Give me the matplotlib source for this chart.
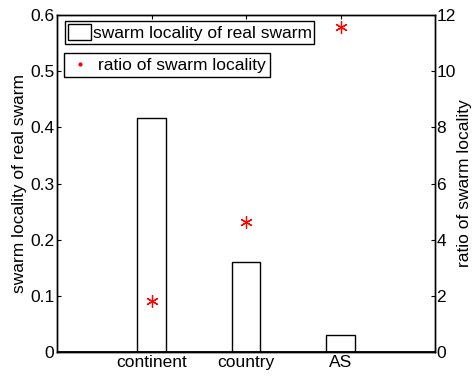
import matplotlib.pyplot as plt
import matplotlib.ticker as mticker
from matplotlib.patches import Patch
from matplotlib.lines import Line2D
import numpy as np

plt.rcParams['font.family'] = ['Liberation Sans', 'DejaVu Sans']
plt.rcParams['font.size'] = 12.5

categories = ['continent', 'country', 'AS']
locality = [0.417, 0.160, 0.030]
ratio = [1.82, 4.63, 11.57]

x = np.arange(1, len(categories) + 1)

fig = plt.figure(figsize=(4.77, 3.81), dpi=100)
ax = fig.add_axes([0.1195, 0.0761, 0.7925, 0.8845])

ax.bar(x, locality, width=0.3, facecolor='white', edgecolor='black', linewidth=1, zorder=2)
ax.axhline(0, color='black', linewidth=2, zorder=3)
ax.set_xlim(0, 4)
ax.set_ylim(0, 0.6)
ax.set_xticks(x)
ax.set_xticklabels(categories)
ax.set_yticks(np.arange(0, 0.61, 0.1))
ax.yaxis.set_major_formatter(mticker.FormatStrFormatter('%g'))
ax.tick_params(direction='in', length=3, top=True, right=False, pad=2)
ax.set_ylabel('swarm locality of real swarm', labelpad=2)

ax2 = ax.twinx()
ax2.plot(x, ratio, linestyle='none', marker=(6, 2, 0), markersize=9,
         color='red', markeredgewidth=0.9)
ax2.set_ylim(0, 12)
ax2.set_yticks(np.arange(0, 13, 2))
ax2.tick_params(direction='in', length=3, pad=1)
ax2.set_ylabel('ratio of swarm locality', labelpad=1)

for a in (ax, ax2):
    for s in a.spines.values():
        s.set_linewidth(1)

leg1 = ax.legend([Patch(facecolor='white', edgecolor='black')],
                 ['swarm locality of real swarm'],
                 loc='upper left', bbox_to_anchor=(0.021, 0.982),
                 borderaxespad=0, fancybox=False, edgecolor='black',
                 framealpha=1, handlelength=1.35, handleheight=1.1,
                 handletextpad=0.1, borderpad=0.15)
leg1.get_frame().set_linewidth(1)

leg2 = ax2.legend([Line2D([], [], linestyle='none', marker='.', color='red', markersize=4)],
                  ['ratio of swarm locality'],
                  loc='upper left', bbox_to_anchor=(0.018, 0.887),
                  borderaxespad=0, fancybox=False, edgecolor='black',
                  framealpha=1, handlelength=1.4, handletextpad=0.3,
                  borderpad=0.25)
leg2.get_frame().set_linewidth(1)

fig.savefig('out.png', dpi=100)
